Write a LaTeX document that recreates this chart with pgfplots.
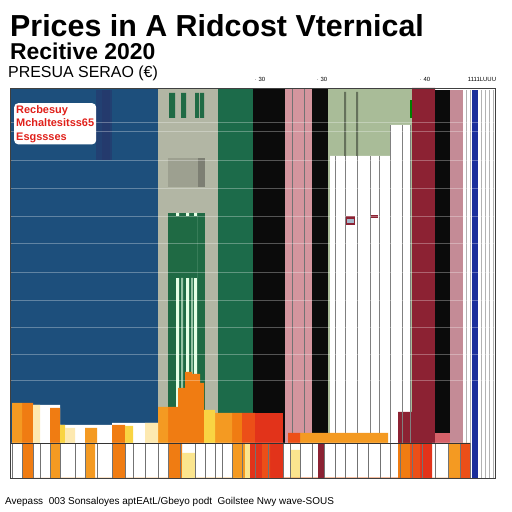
\documentclass[border=0pt]{standalone}
\usepackage{pgfplots}
\pgfplotsset{compat=1.18}
\usepackage{fontspec}
\setmainfont{Liberation Sans}
\definecolor{cblue}{HTML}{1D4F7C}
\definecolor{cdark}{HTML}{27356A}
\definecolor{cgrey}{HTML}{B2B6A4}
\definecolor{cgreen}{HTML}{1C6B4A}
\definecolor{cdgreen}{HTML}{1F6A44}
\definecolor{cblack}{HTML}{0B0B0B}
\definecolor{cpink}{HTML}{D4959E}
\definecolor{csage}{HTML}{A9BC98}
\definecolor{cred}{HTML}{8C2233}
\definecolor{cmauve}{HTML}{C48B96}
\definecolor{cblue2}{HTML}{1B2F9C}
\definecolor{orA}{HTML}{F07C12}
\definecolor{orB}{HTML}{F49A22}
\definecolor{yel}{HTML}{F9D443}
\definecolor{pale}{HTML}{FDE9B0}
\definecolor{redO}{HTML}{EC4F18}
\definecolor{rd}{HTML}{E2331A}
\definecolor{txtred}{HTML}{E0201A}
\begin{document}
\begin{tikzpicture}[x=1bp,y=1bp]
\useasboundingbox (0,0) rectangle (512,512);
\node[anchor=base west, inner sep=0] at (10,475) {\fontsize{30.5}{30}\selectfont\bfseries Prices in A Ridcost Vternical};
\node[anchor=base west, inner sep=0] at (10,452) {\fontsize{23}{23}\selectfont\bfseries Recitive 2020};
\node[anchor=base west, inner sep=0] at (8,434) {\fontsize{16}{16}\selectfont PRESUA SERAO (€)};
\node[anchor=base west, inner sep=0] at (5,7) {\fontsize{10}{10}\selectfont Avepass\ \ 003 Sonsaloyes aptEAtL/Gbeyo podt\ \ Goilstee Nwy wave-SOUS};
\begin{axis}[
  scale only axis, width=485bp, height=390bp,
  at={(10,34)}, anchor=south west,
  xmin=10, xmax=495, ymin=0, ymax=390,
  xtick=\empty,
  ytick={98,124,151,178,206,235,262,290,318,347,356},
  yticklabels={}, ytick pos=left,
  major tick length=2pt,
  tick style={draw=gray},
  ymajorgrids, grid style={white, opacity=0.3, line width=0.6pt},
  axis on top,
  axis line style={draw=black!75, line width=0.6pt},
]
% tall columns
\addplot[ybar interval, fill=cblue, draw=none] coordinates {(10,390) (158,0)};
\addplot[fill=cdark, draw=none, fill opacity=0.55] coordinates {(96,318) (112,318) (112,388) (96,388)} -- cycle;
\addplot[fill=cdark, draw=none, fill opacity=0.5] coordinates {(102,318) (110,318) (110,388) (102,388)} -- cycle;
\addplot[ybar interval, fill=cgrey, draw=none] coordinates {(158,390) (218,0)};
\addplot[ybar interval, fill=cgreen, draw=none] coordinates {(218,390) (253,0)};
\addplot[ybar interval, fill=cblack, draw=none] coordinates {(253,390) (285,0)};
\addplot[ybar interval, fill=cpink, draw=none] coordinates {(285,390) (312,0)};
\addplot[ybar interval, fill=cblack, draw=none] coordinates {(312,390) (328,0)};
\addplot[ybar interval, fill=csage, draw=none] coordinates {(328,390) (412,0)};
\addplot[ybar interval, fill=white, draw=none] coordinates {(330,322) (390,353) (410,0)};
\addplot[ybar interval, fill=cred, draw=none] coordinates {(398,66) (412,390) (435,0)};
\addplot[ybar interval, fill=cblack, draw=none] coordinates {(435,388) (450,0)};
\addplot[ybar interval, fill=cmauve, draw=none] coordinates {(450,388) (463,0)};
\addplot[ybar interval, fill=cblue2, draw=none] coordinates {(472,388) (478,0)};
% details in grey column
\addplot[ybar interval, fill=cdgreen, draw=none] coordinates {(169,385) (175,0) (181,385) (186,0) (195,385) (199,0) (200,385) (204,0)};
\addplot[ybar interval, fill=cgrey, draw=none] coordinates {(158,360) (218,0)};
\addplot[fill=black!12!cgrey, draw=none] coordinates {(168,291) (198,291) (198,320) (168,320)} -- cycle;
\addplot[fill=black!30!cgrey, draw=none] coordinates {(198,291) (205,291) (205,320) (198,320)} -- cycle;
\addplot[ybar interval, fill=cdgreen, draw=none] coordinates {(168,265) (205,0)};
\addplot[ybar interval, fill=green!10!white, draw=none] coordinates {(176,265) (179,0) (186,265) (189,0) (194,265) (197,0)};
\addplot[fill=cdgreen, draw=none] coordinates {(176,200) (197,200) (197,262) (176,262)} -- cycle;
\addplot[ybar interval, fill=green!10!white, draw=none, fill opacity=0.6] coordinates {(181,200) (183,0) (191,200) (193,0)};
% details in sage block and pink column
\addplot[ybar interval, fill=black!40!csage, draw=none] coordinates {(344,386) (346,0) (356,386) (358,0)};
\addplot[ybar interval, fill=white, draw=none] coordinates {(330,322) (390,0)};
\addplot[fill=black!50!green, draw=none] coordinates {(410,360) (412,360) (412,378) (410,378)} -- cycle;
\addplot[ycomb, draw=black!55, line width=0.6pt] coordinates {(292,390) (304,390)};
% white region grey lines
\addplot[ycomb, draw=gray, line width=0.7pt] coordinates {(335,322) (345,322) (357,322) (370,322) (379,322) (390,353) (402,353) (410,353)};
\addplot[fill=cred, draw=none] coordinates {(346,253) (355,253) (355,262) (346,262)} -- cycle;
\addplot[fill=cblue!40!white, draw=none] coordinates {(347,255) (354,255) (354,259) (347,259)} -- cycle;
\addplot[fill=cred, draw=none] coordinates {(371,260) (378,260) (378,263) (371,263)} -- cycle;
% right side light lines
\addplot[ycomb, draw=black!30, line width=0.6pt] coordinates {(466,388) (470,388) (481,388) (485,388) (489,388) (493,388)};
% upper orange layer
\addplot[ybar interval, fill=white, draw=none] coordinates {(33,73) (60,0) (60,53) (112,0) (112,55) (158,0)};
\addplot[ybar interval, fill=orA, draw=none] coordinates {(22,75) (33,0) (50,70) (60,0) (112,53) (125,0) (168,71) (178,90) (185,106) (192,104) (200,95) (204,0) (232,65) (242,0)};
\addplot[ybar interval, fill=orB, draw=none] coordinates {(12,75) (22,0) (85,50) (97,0) (158,71) (168,0) (215,65) (232,0) (300,45) (388,0)};
\addplot[ybar interval, fill=yel, draw=none] coordinates {(60,53) (65,0) (125,52) (133,0) (204,68) (215,0)};
\addplot[ybar interval, fill=pale, draw=none] coordinates {(33,73) (40,0) (65,50) (75,0) (145,55) (158,0)};
\addplot[ybar interval, fill=redO, draw=none] coordinates {(242,65) (255,0) (288,45) (300,0)};
\addplot[ybar interval, fill=rd, draw=none] coordinates {(255,65) (283,0)};
\addplot[ybar interval, fill=cmauve!70!red, draw=none] coordinates {(435,45) (450,0)};
% bottom white band
\addplot[ybar interval, fill=white, draw=none] coordinates {(10,35) (398,0) (432,35) (470,0)};
% bottom colored bars
\addplot[ybar interval, fill=orA, draw=none] coordinates {(22,35) (33,0) (113,35) (125,0) (168,35) (182,0) (398,35) (410,0)};
\addplot[ybar interval, fill=orB, draw=none] coordinates {(50,35) (60,0) (85,35) (95,0) (232,35) (245,0) (448,35) (460,0)};
\addplot[ybar interval, fill=yel!60!white, draw=none] coordinates {(182,25) (195,0) (245,35) (250,0) (290,28) (300,0)};
\addplot[ybar interval, fill=rd, draw=none] coordinates {(250,35) (262,0) (270,35) (283,0) (420,35) (432,0)};
\addplot[ybar interval, fill=redO, draw=none] coordinates {(262,35) (270,0) (410,35) (420,0) (460,35) (470,0)};
\addplot[ybar interval, fill=cred, draw=none] coordinates {(318,35) (324,0)};
% bottom grey lines
\addplot[ycomb, draw=black!55, line width=0.6pt] coordinates {(12,35) (22,35) (33,35) (40,35) (50,35) (60,35) (75,35) (85,35) (97,35) (112,35) (125,35) (133,35) (145,35) (158,35) (168,35) (180,35) (195,35) (205,35) (215,35) (222,35) (232,35) (242,35) (255,35) (268,35) (283,35) (290,35) (300,35) (312,35) (324,35) (335,35) (345,35) (357,35) (368,35) (380,35) (390,35) (400,35) (412,35) (422,35) (435,35) (448,35) (460,35) (470,35)};
\addplot[draw=black!80, line width=0.6pt] coordinates {(10,35) (470,35)};
\end{axis}
% small top labels
\node[anchor=base, inner sep=0] at (260,430) {\fontsize{6}{6}\selectfont $\cdot$ 30};
\node[anchor=base, inner sep=0] at (322,430) {\fontsize{6}{6}\selectfont $\cdot$ 30};
\node[anchor=base, inner sep=0] at (425,430) {\fontsize{6}{6}\selectfont $\cdot$ 40};
\node[anchor=base, inner sep=0] at (482,430) {\fontsize{6}{6}\selectfont 1111LUUU};
% red inset label
\node[anchor=north west, fill=white, rounded corners=4pt, inner sep=2pt, align=left, text=txtred, font=\fontsize{11}{13.5}\selectfont\bfseries] at (14,409) {Recbesuy\\ Mchaltesitss65\\ Esgssses};
\end{tikzpicture}
\end{document}
